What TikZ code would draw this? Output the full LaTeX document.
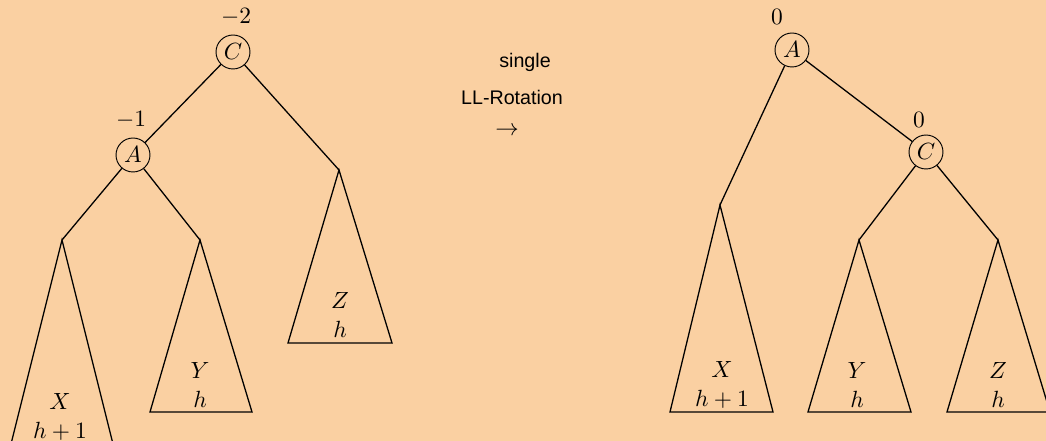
\documentclass[tikz,border=0pt]{standalone}
\usepackage{fontspec}
\setsansfont{Liberation Sans}
\usetikzlibrary{positioning}
\definecolor{paper}{HTML}{FAD0A2}
\tikzset{
  avl/.style={draw, circle, minimum size=14.5pt, inner sep=0pt},
  bal/.style={inner sep=1pt},
  edge/.style={line width=0.55pt},
  sub/.style={align=center, inner sep=0pt},
  note/.style={font=\sffamily\fontsize{8.4}{10}\selectfont},
}

\begin{document}
\begin{tikzpicture}[x=0.015cm, y=-0.015cm]
    \useasboundingbox (0,0) rectangle (1046,441);
    \fill[paper] (0,0) rectangle (1046,441);
    \clip (0,0) rectangle (1046,441);
    % before
    \node[avl] (C) at (233,52) {$C$};
    \node[avl] (A) at (133,155) {$A$};
    \node[bal] (bC) at (236,17) {$-2$};
    \node[bal] (bA) at (131,120) {$-1$};
    \coordinate (lX) at (62,240);
    \coordinate (lY) at (200,240);
    \coordinate (lZ) at (339,170);
    \draw[edge] (C) -- (A); \draw[edge] (C) -- (lZ);
    \draw[edge] (A) -- (lX); \draw[edge] (A) -- (lY);
    \draw[edge] (lX) -- ++(-55,220) -- ++(110,0) -- cycle;
    \draw[edge] (lY) -- ++(-50,172) -- ++(102,0) -- cycle;
    \draw[edge] (lZ) -- ++(-51,173) -- ++(104,0) -- cycle;
    \node[sub] (tX) at (60,417) {$X$\\$h+1$};
    \node[sub] (tY) at (200,385) {$Y$\\$h$};
    \node[sub] (tZ) at (340,315) {$Z$\\$h$};
    % rotation
    \node[note] (single) at (525,62) {single};
    \node[note] (rot) at (512,97) {LL-Rotation};
    \node (arr) at (507,131) {$\rightarrow$};
    % after
    \node[avl] (A2) at (792,50) {$A$};
    \node[avl] (C2) at (926,152) {$C$};
    \node[bal] (bA2) at (777,17) {$0$};
    \node[bal] (bC2) at (919,120) {$0$};
    \coordinate (rX) at (720,205);
    \coordinate (rY) at (859,240);
    \coordinate (rZ) at (998,240);
    \draw[edge] (A2) -- (C2); \draw[edge] (A2) -- (rX);
    \draw[edge] (C2) -- (rY); \draw[edge] (C2) -- (rZ);
    \draw[edge] (rX) -- ++(-50,207) -- ++(103,0) -- cycle;
    \draw[edge] (rY) -- ++(-51,172) -- ++(103,0) -- cycle;
    \draw[edge] (rZ) -- ++(-51,172) -- ++(103,0) -- cycle;
    \node[sub] (uX) at (722,385) {$X$\\$h+1$};
    \node[sub] (uY) at (857,385) {$Y$\\$h$};
    \node[sub] (uZ) at (998,385) {$Z$\\$h$};
\end{tikzpicture}
\end{document}
